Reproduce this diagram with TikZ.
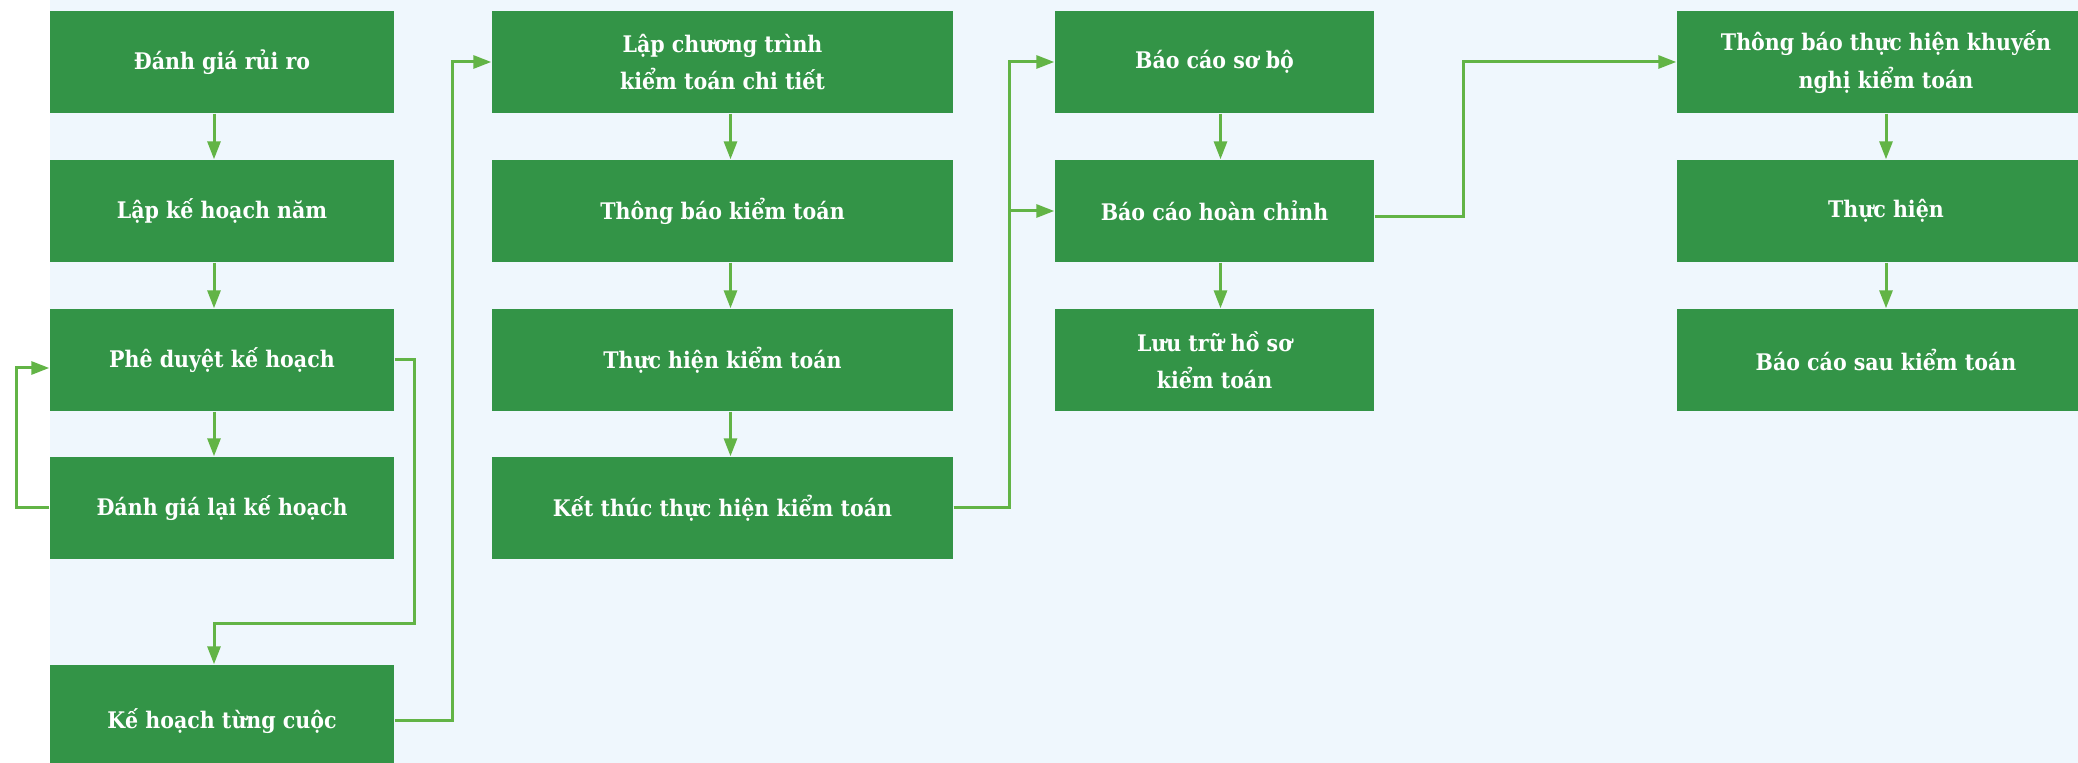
\documentclass[tikz,border=0pt]{standalone}
\usepackage{fontspec}
\setmainfont{DejaVu Serif Condensed}
\definecolor{boxgreen}{RGB}{51,148,71}
\definecolor{linkgreen}{RGB}{98,180,70}
\definecolor{paleblue}{RGB}{239,247,253}
\usetikzlibrary{arrows.meta,positioning}

\begin{document}
\begin{tikzpicture}[every node/.style={font=\fontsize{6.5}{10.6}\selectfont\bfseries},
  stage/.style={fill=boxgreen, text=white, minimum height=1.02cm, align=center, inner sep=0pt},
  link/.style={linkgreen, line width=0.03cm, -{Triangle[length=0.18cm,width=0.13cm]}}]
\clip (0,0) rectangle (20.78,-7.63);
\fill[paleblue] (0.5,0) rectangle (20.78,-7.63);
% planning
\node[stage, minimum width=3.44cm] (risk) at (2.22,-0.62) {Đánh giá rủi ro};
\node[stage, minimum width=3.44cm] (yearplan) at (2.22,-2.11) {Lập kế hoạch năm};
\node[stage, minimum width=3.44cm] (approve) at (2.22,-3.60) {Phê duyệt kế hoạch};
\node[stage, minimum width=3.44cm] (review) at (2.22,-5.08) {Đánh giá lại kế hoạch};
\node[stage, minimum width=3.44cm, minimum height=1.12cm] (audit) at (2.22,-7.21) {Kế hoạch từng cuộc};
% fieldwork
\node[stage, minimum width=4.61cm] (program) at (7.225,-0.62) {Lập chương trình\\kiểm toán chi tiết};
\node[stage, minimum width=4.61cm] (notify) at (7.225,-2.11) {Thông báo kiểm toán};
\node[stage, minimum width=4.61cm] (perform) at (7.225,-3.60) {Thực hiện kiểm toán};
\node[stage, minimum width=4.61cm] (finish) at (7.225,-5.08) {Kết thúc thực hiện kiểm toán};
% reporting
\node[stage, minimum width=3.19cm] (draft) at (12.145,-0.62) {Báo cáo sơ bộ};
\node[stage, minimum width=3.19cm] (final) at (12.145,-2.11) {Báo cáo hoàn chỉnh};
\node[stage, minimum width=3.19cm] (archive) at (12.145,-3.60) {Lưu trữ hồ sơ\\kiểm toán};
% follow-up
\node[stage, minimum width=4.18cm] (notice) at (18.86,-0.62) {Thông báo thực hiện khuyến\\nghị kiểm toán};
\node[stage, minimum width=4.18cm] (execute) at (18.86,-2.11) {Thực hiện};
\node[stage, minimum width=4.18cm] (followup) at (18.86,-3.60) {Báo cáo sau kiểm toán};

\draw[link] ([xshift=-0.08cm]risk.south) -- ([xshift=-0.08cm]yearplan.north);
\draw[link] ([xshift=-0.08cm]yearplan.south) -- ([xshift=-0.08cm]approve.north);
\draw[link] ([xshift=-0.08cm]approve.south) -- ([xshift=-0.08cm]review.north);
\draw[link] (review.west) -- ++(-0.33,0) |- ([yshift=-0.08cm]approve.west);
\draw[link] (approve.east) -- ++(0.2,0) |- ([xshift=-0.08cm,yshift=0.41cm]audit.north) -- ([xshift=-0.08cm]audit.north);
\draw[link] (audit.east) -- ++(0.58,0) |- (program.west);
\draw[link] ([xshift=0.08cm]program.south) -- ([xshift=0.08cm]notify.north);
\draw[link] ([xshift=0.08cm]notify.south) -- ([xshift=0.08cm]perform.north);
\draw[link] ([xshift=0.08cm]perform.south) -- ([xshift=0.08cm]finish.north);
\draw[link] (finish.east) -- ++(0.56,0) |- (draft.west);
\draw[link] (finish.east) -- ++(0.56,0) |- (final.west);
\draw[link] ([xshift=0.06cm]draft.south) -- ([xshift=0.06cm]final.north);
\draw[link] ([xshift=0.06cm]final.south) -- ([xshift=0.06cm]archive.north);
\draw[link] ([yshift=-0.06cm]final.east) -- ++(0.89,0) |- (notice.west);
\draw[link] (notice) -- (execute);
\draw[link] (execute) -- (followup);
\end{tikzpicture}
\end{document}
